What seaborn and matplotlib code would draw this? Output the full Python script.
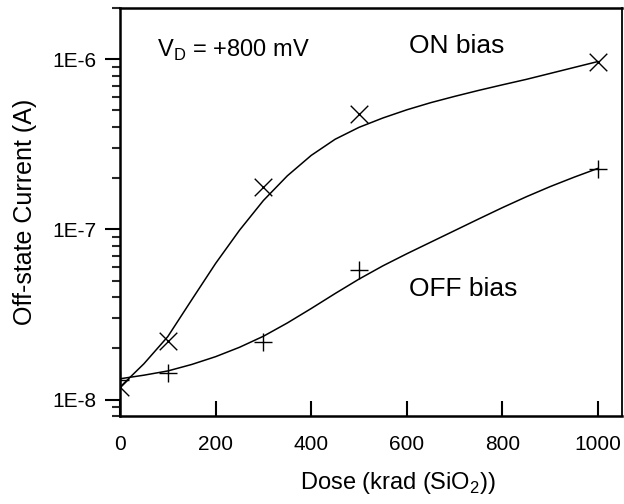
import numpy as np
import pandas as pd
import matplotlib
matplotlib.use("Agg")
import matplotlib.pyplot as plt
import matplotlib.ticker as mticker
import seaborn as sns

# measured points
dose_pts = [0, 100, 300, 500, 1000]
on_pts = [1.18e-8, 2.22e-8, 1.77e-7, 4.75e-7, 9.7e-7]
off_pts = [1.30e-8, 1.43e-8, 2.18e-8, 5.74e-8, 2.26e-7]

# fitted curves
dose_curve = [0, 50, 100, 150, 200, 250, 300, 350, 400, 450, 500,
              550, 600, 650, 700, 750, 800, 850, 900, 950, 1000]
on_curve = [1.183e-8, 1.622e-8, 2.344e-8, 3.855e-8, 6.31e-8, 9.89e-8,
            1.479e-7, 2.065e-7, 2.723e-7, 3.388e-7, 3.981e-7, 4.519e-7,
            5.047e-7, 5.559e-7, 6.053e-7, 6.561e-7, 7.079e-7, 7.621e-7,
            8.260e-7, 8.954e-7, 9.705e-7]
off_curve = [1.324e-8, 1.390e-8, 1.472e-8, 1.607e-8, 1.786e-8, 2.028e-8,
             2.355e-8, 2.818e-8, 3.428e-8, 4.198e-8, 5.105e-8, 6.109e-8,
             7.194e-8, 8.414e-8, 9.840e-8, 1.151e-7, 1.343e-7, 1.556e-7,
             1.786e-7, 2.028e-7, 2.286e-7]

x_major = [0, 200, 400, 600, 800, 1000]
y_major = [1e-8, 1e-7, 1e-6]
y_labels = ["1E-8", "1E-7", "1E-6"]

sns.set_theme(style="white")
plt.rcParams["font.family"] = ["Liberation Sans", "DejaVu Sans"]
plt.rcParams["mathtext.fontset"] = "custom"
plt.rcParams["mathtext.rm"] = "Liberation Sans"

fig = plt.figure(figsize=(6.24, 5.04), dpi=100)
ax = fig.add_axes([0.1923, 0.1746, 0.8045, 0.8094])

curve_df = pd.DataFrame({"dose": dose_curve, "on": on_curve, "off": off_curve})
pts_df = pd.DataFrame({"dose": dose_pts, "on": on_pts, "off": off_pts})

sns.lineplot(data=curve_df, x="dose", y="on", ax=ax, color="black", linewidth=1.1)
sns.lineplot(data=curve_df, x="dose", y="off", ax=ax, color="black", linewidth=1.1)
sns.scatterplot(data=pts_df, x="dose", y="on", ax=ax, marker="x", s=160,
                color="black", linewidth=1.0, zorder=3)
sns.scatterplot(data=pts_df, x="dose", y="off", ax=ax, marker="+", s=170,
                color="black", linewidth=1.0, zorder=3)

ax.set_yscale("log")
ax.set_xlim(0, 1050)
ax.set_ylim(8e-9, 2e-6)

ax.xaxis.set_major_locator(mticker.FixedLocator(x_major))
ax.xaxis.set_minor_locator(mticker.MultipleLocator(100))
ax.yaxis.set_major_locator(mticker.FixedLocator(y_major))
ax.yaxis.set_major_formatter(mticker.FixedFormatter(y_labels))
ax.yaxis.set_minor_locator(mticker.LogLocator(base=10, subs=np.arange(2, 10), numticks=20))
ax.yaxis.set_minor_formatter(mticker.NullFormatter())

ax.tick_params(axis="x", which="major", direction="in", length=11, width=1.5,
               labelsize=15, pad=14, colors="black")
ax.tick_params(axis="x", which="minor", direction="in", length=5.5, width=1.5)
ax.tick_params(axis="y", which="major", direction="out", length=11, width=1.5,
               labelsize=15, pad=6, colors="black")
ax.tick_params(axis="y", which="minor", direction="out", length=5.5, width=1.5, left=True)
ax.tick_params(bottom=True, left=True, top=False, right=False)

for side in ["left", "bottom", "top"]:
    ax.spines[side].set_linewidth(1.8)
    ax.spines[side].set_color("black")
ax.spines["right"].set_linewidth(1.3)
ax.spines["right"].set_color("black")

ax.set_xlabel("Dose (krad (SiO$_2$))", fontsize=17, labelpad=11, color="black")
ax.xaxis.label.set_x(0.554)
ax.set_ylabel("Off-state Current (A)", fontsize=18, labelpad=11, color="black")

ax.text(0.074, 0.88, "V$_\\mathrm{D}$ = +800 mV", transform=ax.transAxes,
        fontsize=17, va="baseline", ha="left", color="black")
ax.text(0.576, 0.889, "ON bias", transform=ax.transAxes,
        fontsize=19, va="baseline", ha="left", color="black")
ax.text(0.576, 0.295, "OFF bias", transform=ax.transAxes,
        fontsize=19, va="baseline", ha="left", color="black")

fig.savefig("out.png", dpi=100)
